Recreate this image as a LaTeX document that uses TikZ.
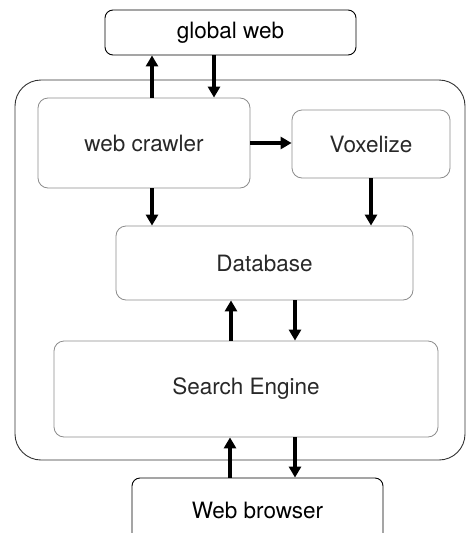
\documentclass[tikz,border=0pt]{standalone}
\usepackage{fontspec}
\setmainfont{TeX Gyre Heros}
\usetikzlibrary{arrows.meta, positioning, calc}
\definecolor{boxgray}{RGB}{140, 140, 140}
\definecolor{textgray}{RGB}{40, 40, 40}

\begin{document}
\begin{tikzpicture}[x=1pt, y=-1pt]
    % Styles
    \tikzstyle{outside} = [rectangle, rounded corners=8pt, draw=black, line width=0.9pt, text=black, font=\fontsize{22.5}{26}\selectfont]
    \tikzstyle{module} = [rectangle, rounded corners=10pt, draw=boxgray, line width=0.8pt, text=textgray, font=\fontsize{22.5}{26}\selectfont]
    \tikzstyle{flow} = [line width=3.6pt, -{Triangle[width=12pt, length=11pt]}]

    \useasboundingbox (0,0) rectangle (466,533);
    \clip (0,0) rectangle (466,533);

    % Server frame
    \draw[rounded corners=26pt, draw=black!80, line width=0.9pt] (15,80) rectangle (465,460);

    % Nodes
    \node (global) [outside, minimum width=251pt, minimum height=45pt] at (230.5,32.5) {global web};
    \node (crawler) [module, minimum width=212pt, minimum height=90pt] at (144,143) {web crawler};
    \node (voxel) [module, minimum width=158pt, minimum height=68pt] at (371,144) {Voxelize};
    \node (db) [module, minimum width=297pt, minimum height=74pt] at (264.5,263) {Database};
    \node (search) [module, minimum width=384pt, minimum height=96pt] at (246,389) {Search Engine};
    \node (browser) [outside, minimum width=251pt, minimum height=64pt, text depth=0pt] at (257.5,510) {Web browser};

    % Connections
    \draw[flow] ([xshift=8]crawler.north) -- ([xshift=8]crawler.north |- global.south);
    \draw[flow] ([xshift=-16.5]global.south) -- ([xshift=-16.5]global.south |- crawler.north);
    \draw[flow] (crawler.east) -- (crawler.east -| voxel.west);
    \draw[flow] ([xshift=8]crawler.south) -- ([xshift=8]crawler.south |- db.north);
    \draw[flow] (voxel.south) -- (voxel.south |- db.north);

    \draw[flow] ([xshift=-15]search.north) -- ([xshift=-15]search.north |- db.south);
    \draw[flow] ([xshift=30.5]db.south) -- ([xshift=30.5]db.south |- search.north);
    \draw[flow] ([xshift=-27.5]browser.north) -- ([xshift=-27.5]browser.north |- search.south);
    \draw[flow] ([xshift=49]search.south) -- ([xshift=49]search.south |- browser.north);
\end{tikzpicture}
\end{document}
